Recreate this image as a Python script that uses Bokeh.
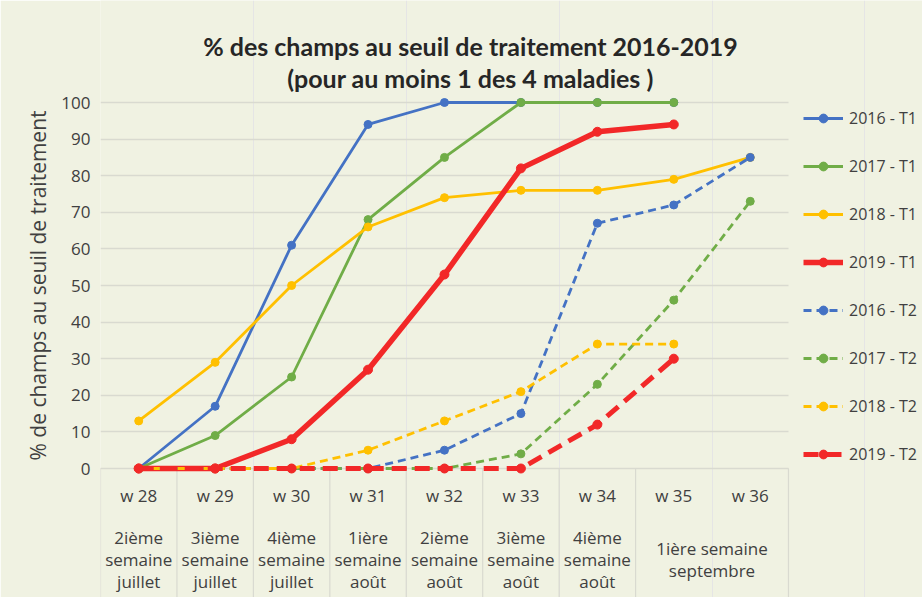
import math
from bokeh.plotting import figure
from bokeh.models import Range1d, FixedTicker, Legend, LegendItem, Title
from bokeh.embed import file_html
from bokeh.resources import INLINE
from bokeh.core.properties import value

# ---------------- data ----------------
weeks = ["w 28", "w 29", "w 30", "w 31", "w 32", "w 33", "w 34", "w 35", "w 36"]
periods = ["2ième\nsemaine\njuillet", "3ième\nsemaine\njuillet", "4ième\nsemaine\njuillet",
           "1ière\nsemaine\naoût", "2ième\nsemaine\naoût", "3ième\nsemaine\naoût",
           "4ième\nsemaine\naoût", "1ière semaine\nseptembre"]
period_start = [0, 1, 2, 3, 4, 5, 6, 7]
period_span = [1, 1, 1, 1, 1, 1, 1, 2]
y_ticks = [0, 10, 20, 30, 40, 50, 60, 70, 80, 90, 100]
title_lines = ["% des champs au seuil de traitement 2016-2019",
               "(pour au moins 1 des 4 maladies )"]
y_label = "% de champs au seuil de traitement"

series_names = ["2016 - T1", "2017 - T1", "2018 - T1", "2019 - T1",
                "2016 - T2", "2017 - T2", "2018 - T2", "2019 - T2"]
v2016_t1 = [0, 17, 61, 94, 100, 100, 100, 100]
v2017_t1 = [0, 9, 25, 68, 85, 100, 100, 100]
v2018_t1 = [13, 29, 50, 66, 74, 76, 76, 79, 85]
v2019_t1 = [0, 0, 8, 27, 53, 82, 92, 94]
v2016_t2 = [0, 0, 0, 0, 5, 15, 67, 72, 85]
v2017_t2 = [0, 0, 0, 0, 0, 4, 23, 46, 73]
v2018_t2 = [0, 0, 0, 5, 13, 21, 34, 34]
v2019_t2 = [0, 0, 0, 0, 0, 0, 12, 30]
series_values = [v2016_t1, v2017_t1, v2018_t1, v2019_t1,
                 v2016_t2, v2017_t2, v2018_t2, v2019_t2]

# ---------------- styles ----------------
BLUE, GREEN, GOLD, RED = "#4472C4", "#70AD47", "#FFC000", "#F22828"
styles = [
    dict(color=BLUE, width=2.8, dash="solid", size=8),
    dict(color=GREEN, width=2.8, dash="solid", size=8),
    dict(color=GOLD, width=2.8, dash="solid", size=8),
    dict(color=RED, width=5.5, dash="solid", size=9),
    dict(color=BLUE, width=2.8, dash="8 5", size=8),
    dict(color=GREEN, width=2.8, dash="8 5", size=8),
    dict(color=GOLD, width=2.8, dash="8 5", size=8),
    dict(color=RED, width=5, dash="15 8", size=9),
]
BG = "#F0F2E2"
GRID = "#D9DAD0"
TXT = "#404040"
FONT = "Open Sans"

PX = 3.66     # pixels per y unit
XW = 76.44    # pixels per category
p = figure(width=922, height=597, output_backend="svg", toolbar_location=None,
           x_range=Range1d(0, 822 / XW), y_range=Range1d(-129 / PX, 100 + 102 / PX),
           x_axis_location=None, min_border_left=100, min_border_right=0,
           min_border_top=0, min_border_bottom=0)
p.background_fill_color = BG
p.border_fill_color = BG
p.outline_line_color = None

ax = p.yaxis[0]
ax.ticker = FixedTicker(ticks=y_ticks)
ax.axis_line_color = None
ax.major_tick_line_color = None
ax.minor_tick_line_color = None
ax.major_tick_out = 0
ax.major_tick_in = 0
ax.minor_tick_out = 0
ax.major_label_standoff = 10
ax.major_label_text_font = FONT
ax.major_label_text_font_size = "17px"
ax.major_label_text_color = TXT

g = p.ygrid[0]
g.grid_line_color = GRID
g.grid_line_width = 1.5
if "cross_bounds" in g.properties():
    g.cross_bounds = (0, len(weeks))
else:
    g.grid_line_color = None
    p.segment(x0=[0] * len(y_ticks), y0=y_ticks, x1=[len(weeks)] * len(y_ticks), y1=y_ticks,
              line_color=GRID, line_width=1.5)

# category area: axis line, separators, labels
p.segment(x0=[0], y0=[0], x1=[len(weeks)], y1=[0], line_color=GRID, line_width=1.2)
seps = period_start + [period_start[-1] + period_span[-1]]
p.segment(x0=seps, y0=[0] * len(seps), x1=seps, y1=[-40] * len(seps),
          line_color=GRID, line_width=1.2)
p.text(x=[i + 0.5 for i in range(len(weeks))], y=[-7.4] * len(weeks), text=weeks,
       text_align="center", text_baseline="middle", text_font=value(FONT),
       text_font_size="17px", text_color=TXT)
p.text(x=[s + w / 2 for s, w in zip(period_start, period_span)], y=[-24.9] * len(periods),
       text=periods, text_align="center", text_baseline="middle", text_font=value(FONT),
       text_font_size="17px", text_color=TXT, text_line_height=0.95)

# title (inside the frame, above the data)
p.text(x=[370 / XW] * 2, y=[100 + 57 / PX, 100 + 25 / PX], text=title_lines,
       text_align="center", text_baseline="middle", text_font=value("Lato"),
       text_font_style="bold", text_font_size="25px", text_color="#262626")

items = []
for name, vals, st in zip(series_names, series_values, styles):
    xs = [i + 0.5 for i in range(len(vals))]
    lr = p.line(xs, vals, line_color=st["color"], line_width=st["width"], line_dash=st["dash"])
    sr = p.scatter(xs, vals, size=st["size"], fill_color=st["color"], line_color=st["color"])
    items.append(LegendItem(label=name, renderers=[lr, sr]))

legend = Legend(items=items, location=(703, 132), glyph_width=40, glyph_height=22,
                label_height=22, spacing=26, padding=0, margin=0, label_standoff=6,
                border_line_color=None, background_fill_alpha=0,
                label_text_font=FONT, label_text_font_size="16px", label_text_color=TXT)
p.add_layout(legend, "center")

yt = Title(text=y_label, align="left", offset=137, standoff=14, text_font=FONT,
           text_font_size="21px", text_font_style="normal", text_color=TXT)
p.add_layout(yt, "left")

open("out.html", "w").write(file_html(p, INLINE))
